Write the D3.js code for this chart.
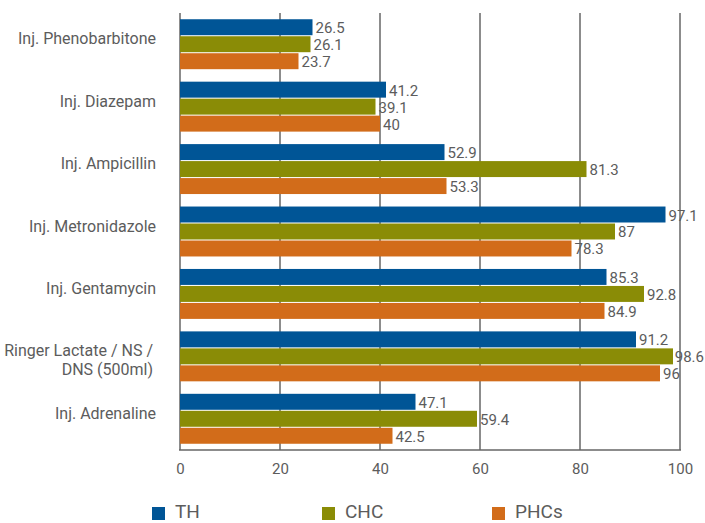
<!DOCTYPE html>
<html><head><meta charset="utf-8">
<script src="https://cdn.jsdelivr.net/npm/d3@7"></script>
<style>body{margin:0;background:#fff}svg{display:block}text{font-family:Roboto,sans-serif;fill:#5c5c5c}</style>
</head><body><svg id="c" width="705" height="523"></svg>
<script>
const categories = ["Inj. Phenobarbitone","Inj. Diazepam","Inj. Ampicillin","Inj. Metronidazole","Inj. Gentamycin","Ringer Lactate / NS /|DNS (500ml)","Inj. Adrenaline"];
const seriesNames = ["TH","CHC","PHCs"];
const TH = [26.5,41.2,52.9,97.1,85.3,91.2,47.1];
const CHC = [26.1,39.1,81.3,87,92.8,98.6,59.4];
const PHCs = [23.7,40,53.3,78.3,84.9,96,42.5];
const xTicks = [0,20,40,60,80,100];
const colors = ["#005596","#8a8c06","#d26c1a"];
const series = [TH, CHC, PHCs];

const W = 705;
const svg = d3.select("#c");
const x = d3.scaleLinear().domain([0,100]).range([180,680]);
const y = d3.scaleBand().domain(categories).range([13,450]).paddingInner(0.2).paddingOuter(0.1);
const ys = d3.scaleBand().domain(seriesNames).range([0,y.bandwidth()]).paddingInner(0.06);

// gridlines
svg.append("g").selectAll("line").data(xTicks).join("line")
  .attr("x1",d=>x(d)).attr("x2",d=>x(d)).attr("y1",13).attr("y2",450)
  .attr("stroke","#666").attr("stroke-width",1.5);
svg.append("line").attr("x1",179).attr("x2",681).attr("y1",450).attr("y2",450)
  .attr("stroke","#666").attr("stroke-width",1.5);

// x axis labels
const xAxis = d3.axisBottom(x).tickValues(xTicks).tickSize(0).tickPadding(13);
const gx = svg.append("g").attr("transform","translate(0,450)").call(xAxis);
gx.select(".domain").remove();
gx.selectAll("text").style("font-family","Roboto,sans-serif").attr("font-size",15).attr("fill","#5c5c5c");

// bars
categories.forEach((c,i)=>{
  const g = svg.append("g").attr("transform",`translate(0,${y(c)})`);
  series.forEach((s,j)=>{
    g.append("rect").attr("x",x(0)).attr("y",ys(seriesNames[j]))
      .attr("width",x(s[i])-x(0)).attr("height",ys.bandwidth()).attr("fill",colors[j]);
    const t = g.append("text").attr("x",x(s[i])+3).attr("y",ys(seriesNames[j])+ys.bandwidth()/2+6)
      .attr("font-size",15).text(s[i]);
    const w = t.node().getComputedTextLength();
    if (x(s[i])+3+w > W-1) t.attr("x", W-1-w);
  });
  const lines = c.split("|");
  const cy = y(c)+y.bandwidth()/2;
  const t = svg.append("text").attr("text-anchor","end").attr("font-size",16);
  lines.forEach((l,k)=>{
    t.append("tspan").attr("x", lines.length===1 ? 156 : 153).attr("y", cy + k*19).text(l);
  });
});

// legend
const legX = [152,322,492];
seriesNames.forEach((n,j)=>{
  svg.append("rect").attr("x",legX[j]).attr("y",507).attr("width",13).attr("height",13).attr("fill",colors[j]);
  svg.append("text").attr("x",legX[j]+23).attr("y",518).attr("font-size",19).text(n);
});
</script></body></html>
